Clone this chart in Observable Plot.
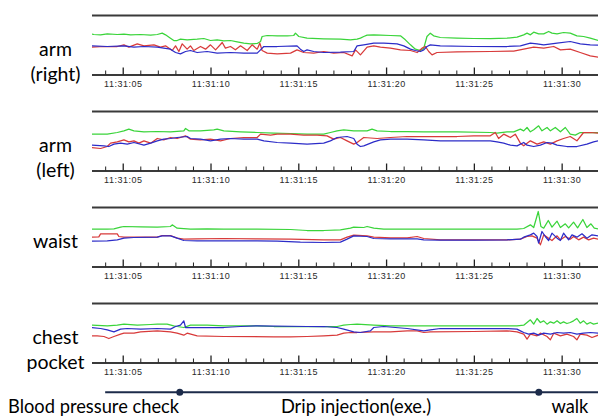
<!DOCTYPE html>
<html><head><meta charset="utf-8">
<script src="https://cdn.jsdelivr.net/npm/d3@7"></script>
<script src="https://cdn.jsdelivr.net/npm/@observablehq/plot@0.6"></script>
<style>
body{margin:0;background:#fff;}
#chart{width:598px;height:416px;overflow:hidden;position:relative;background:#fff;}
#chart svg{display:block;}
g[aria-label="x-axis tick label"] text{letter-spacing:0.5px;}
</style></head><body><div id="chart"></div>
<script>
// ---- data (time in seconds after 11:31:00, signal in arbitrary units) ----
const panelLabels = ["arm\n(right)", "arm\n(left)", "waist", "chest\npocket"];
const majorTicks = [5, 10, 15, 20, 25, 30];
const tickLabels = ["11:31:05", "11:31:10", "11:31:15", "11:31:20", "11:31:25", "11:31:30"];
const minorTicks = [4, 6, 7, 8, 9, 11, 12, 13, 14, 16, 17, 18, 19, 21, 22, 23, 24, 26, 27, 28, 29, 31];
const timeDomain = [3.25, 32.07];
const panelDomains = [[-45.5, 133], [-45.5, 133], [-51.5, 127], [-51.5, 127]];
const phaseLabels = ["Blood pressure check", "Drip injection(exe.)", "walk"];
const phaseLabelTimes = [3.31, 18.26, 30.44];
const phaseMarks = [8.22, 28.67];
const timelineSpan = [4, 32.07];

const armRightGreen = [[3.14,78],[3.33,76],[3.71,75],[4.09,78],[4.66,76],[5.04,77],[5.42,75],[5.99,76],[6.56,74],[6.94,76],[7.22,80],[7.41,75],[7.69,65],[7.88,58],[8.07,58],[8.26,62],[8.64,60],[9.21,62],[9.59,64],[9.97,58],[10.35,60],[10.73,57],[11.11,58],[11.49,54],[11.87,50],[12.25,48],[12.63,49],[12.82,55],[12.91,70],[13.20,73],[13.77,72],[14.34,72],[14.71,73],[14.81,80],[15.00,70],[15.47,65],[16.42,63],[17.37,62],[17.94,60],[18.32,62],[18.51,65],[18.70,70],[18.89,74],[19.27,75],[19.65,74],[20.22,73],[20.79,72],[21.07,60],[21.36,45],[21.64,32],[21.93,28],[22.12,35],[22.30,70],[22.49,80],[22.68,72],[23.06,67],[24.01,65],[24.96,64],[25.91,64],[26.86,65],[27.43,68],[27.81,75],[28.00,80],[28.19,75],[28.38,83],[28.66,78],[28.95,78],[29.23,85],[29.42,80],[29.71,78],[30.08,82],[30.46,80],[30.84,72],[31.22,70],[31.60,65],[32.06,58]];
const armRightBlue = [[3.14,42],[4.09,40],[5.04,42],[5.61,38],[6.18,40],[6.94,38],[7.31,35],[7.69,32],[7.98,22],[8.26,18],[8.55,25],[8.83,28],[9.21,22],[9.78,25],[10.35,20],[11.11,22],[11.87,20],[12.63,20],[12.82,30],[13.01,40],[13.77,40],[14.90,42],[15.09,32],[15.28,25],[15.47,30],[15.85,25],[16.42,22],[17.37,23],[18.13,25],[18.32,42],[18.70,45],[19.27,50],[19.84,50],[20.60,48],[20.98,42],[21.36,32],[21.64,28],[21.93,25],[22.12,30],[22.30,40],[22.49,45],[23.06,42],[24.96,40],[26.86,40],[27.62,42],[28.19,50],[28.57,48],[28.95,45],[29.71,50],[30.46,55],[31.03,48],[31.60,45],[32.06,44]];
const armRightRed = [[3.14,38],[3.90,40],[4.66,40],[5.04,45],[5.32,38],[5.80,48],[6.18,42],[6.75,45],[7.12,38],[7.41,42],[7.79,28],[7.98,42],[8.17,25],[8.36,48],[8.64,32],[8.83,42],[9.02,28],[9.40,40],[9.69,32],[9.97,45],[10.26,30],[10.64,52],[10.82,35],[11.11,40],[11.39,30],[11.68,42],[12.06,28],[12.34,45],[12.63,32],[12.78,50],[12.91,28],[13.20,20],[13.77,18],[14.53,20],[14.90,30],[15.28,22],[15.85,20],[16.42,25],[16.99,20],[17.56,22],[18.04,12],[18.23,30],[18.51,15],[18.89,38],[19.27,42],[19.65,38],[20.22,35],[20.79,30],[21.36,28],[21.74,22],[22.02,35],[22.21,40],[22.40,25],[22.59,15],[22.87,22],[24.01,24],[25.91,25],[27.24,26],[27.81,32],[28.38,38],[28.95,35],[29.52,40],[29.90,30],[30.46,32],[31.03,22],[31.60,12],[32.06,8]];

const armLeftGreen = [[3.14,65],[4.09,65],[4.66,70],[5.04,75],[5.32,80],[5.61,75],[6.18,72],[6.94,73],[7.69,72],[8.45,75],[8.55,82],[8.74,75],[9.40,75],[10.16,78],[10.35,80],[10.73,75],[11.68,72],[12.63,70],[13.58,68],[14.53,67],[15.47,65],[16.42,65],[16.80,70],[17.18,75],[17.56,78],[18.13,75],[18.89,75],[19.17,80],[19.46,75],[20.22,73],[21.17,73],[22.12,72],[24.01,72],[25.91,70],[26.29,68],[26.86,72],[27.24,72],[27.62,80],[27.81,75],[28.00,85],[28.19,72],[28.38,78],[28.66,90],[28.85,75],[29.14,85],[29.33,75],[29.61,85],[29.90,72],[30.18,85],[30.46,65],[30.75,62],[31.03,70],[31.41,70],[32.06,70]];
const armLeftBlue = [[3.14,32],[3.90,30],[4.18,28],[4.47,35],[4.85,38],[5.23,35],[5.61,40],[6.18,32],[6.56,38],[6.94,45],[7.31,50],[7.69,52],[8.07,55],[8.64,58],[8.83,52],[9.40,50],[9.97,45],[10.54,50],[11.11,52],[11.87,50],[12.63,50],[13.01,45],[13.77,40],[14.53,38],[15.47,35],[16.42,38],[16.80,45],[17.18,55],[17.75,58],[18.13,52],[18.32,35],[18.51,28],[18.70,30],[19.27,42],[19.65,48],[20.22,50],[21.17,50],[22.12,48],[23.06,45],[25.91,45],[26.29,42],[26.67,38],[27.05,32],[27.43,30],[27.81,40],[28.00,32],[28.38,28],[28.76,32],[29.14,40],[29.42,38],[29.71,32],[30.27,28],[30.84,28],[31.41,35],[31.79,42],[32.06,45]];
const armLeftRed = [[3.14,25],[3.71,22],[4.09,28],[4.28,38],[4.66,42],[5.04,48],[5.32,42],[5.61,45],[5.89,38],[6.18,45],[6.56,38],[6.94,52],[7.31,48],[7.69,55],[8.07,52],[8.55,60],[8.83,50],[9.40,48],[9.97,50],[10.54,45],[11.11,52],[11.87,55],[12.63,55],[12.82,65],[13.39,62],[13.77,65],[14.53,65],[15.28,62],[16.04,62],[16.61,60],[16.99,50],[17.37,55],[17.75,45],[18.13,35],[18.32,40],[18.70,55],[19.46,52],[20.22,55],[21.17,58],[22.12,58],[24.01,58],[24.96,60],[25.91,60],[26.19,70],[26.38,52],[26.67,65],[27.05,55],[27.33,65],[27.62,38],[27.81,30],[28.19,45],[28.57,35],[28.95,42],[29.33,35],[29.71,45],[30.08,52],[30.46,58],[30.84,45],[31.22,70],[31.60,70],[32.06,68]];

const waistGreen = [[3.14,62],[4.09,62],[4.47,63],[4.85,68],[5.04,70],[5.99,69],[6.94,68],[7.69,70],[7.79,75],[8.07,65],[8.83,62],[9.78,63],[10.73,62],[12.63,62],[14.53,61],[15.47,58],[16.42,58],[17.37,60],[17.94,65],[18.13,68],[18.70,67],[18.89,70],[19.27,65],[19.84,62],[22.12,62],[27.43,62],[27.81,64],[28.19,75],[28.38,67],[28.64,115],[28.79,70],[28.95,65],[29.21,88],[29.42,68],[29.71,86],[29.90,67],[30.18,78],[30.37,66],[30.65,83],[30.88,66],[31.18,91],[31.41,67],[31.64,78],[31.83,65],[32.06,63]];
const waistBlue = [[3.14,26],[4.09,27],[4.66,30],[5.04,35],[5.61,37],[6.94,38],[7.22,42],[7.69,42],[8.07,35],[8.45,28],[9.21,27],[10.73,27],[12.63,27],[13.77,26],[15.09,23],[16.42,22],[17.37,23],[17.75,32],[18.13,42],[18.89,40],[19.27,34],[20.22,33],[21.74,33],[22.12,30],[23.06,29],[24.96,29],[26.86,30],[27.62,32],[27.81,38],[28.19,45],[28.38,50],[28.57,40],[28.66,20],[28.85,55],[29.04,40],[29.23,28],[29.42,50],[29.71,35],[29.90,28],[30.08,50],[30.37,30],[30.56,45],[30.84,38],[31.13,48],[31.41,35],[31.70,45],[32.06,42]];
const waistRed = [[3.14,38],[3.61,39],[3.71,48],[4.66,48],[4.75,40],[5.04,38],[6.94,38],[7.22,43],[7.69,43],[8.07,35],[8.45,32],[9.21,33],[10.73,34],[12.63,33],[14.53,32],[16.42,30],[17.37,30],[17.75,38],[18.13,44],[18.89,42],[19.27,38],[20.22,36],[21.17,36],[21.74,40],[22.12,34],[23.06,30],[26.86,30],[27.62,32],[28.00,40],[28.28,42],[28.57,35],[28.76,15],[28.95,45],[29.23,35],[29.42,28],[29.71,42],[29.90,30],[30.18,40],[30.46,32],[30.65,40],[30.94,30],[31.22,38],[31.51,30],[31.79,35],[32.06,32]];

const chestGreen = [[3.14,62],[4.09,60],[4.66,62],[5.04,65],[5.80,62],[6.56,64],[6.94,65],[7.50,65],[7.88,60],[8.07,58],[8.45,55],[8.83,62],[9.78,62],[10.73,60],[12.63,60],[13.58,58],[17.18,58],[17.56,62],[17.94,64],[18.32,65],[19.27,62],[20.22,60],[27.43,60],[27.81,62],[28.00,70],[28.19,78],[28.38,65],[28.57,82],[28.76,70],[28.95,75],[29.14,65],[29.33,72],[29.52,68],[29.71,75],[29.90,67],[30.08,72],[30.27,67],[30.46,70],[30.65,75],[30.84,82],[31.03,68],[31.22,75],[31.41,65],[31.60,70],[31.79,65],[32.06,68]];
const chestBlue = [[3.14,55],[3.71,52],[4.09,48],[4.47,42],[4.85,50],[5.23,52],[5.99,50],[6.94,52],[7.69,50],[7.98,58],[8.26,62],[8.45,75],[8.55,55],[8.83,55],[10.73,55],[11.68,58],[12.63,60],[15.47,58],[16.42,58],[17.18,55],[17.56,50],[18.13,42],[18.51,40],[19.08,45],[19.27,55],[19.84,58],[21.17,52],[22.12,45],[22.49,48],[23.06,52],[26.86,52],[27.43,50],[27.62,45],[27.81,40],[28.09,35],[28.38,38],[28.66,32],[28.95,38],[29.33,35],[29.71,40],[30.08,38],[30.46,40],[30.84,35],[31.22,38],[31.60,40],[32.06,38]];
const chestRed = [[3.14,30],[3.52,30],[3.90,28],[4.18,22],[4.47,28],[4.85,35],[5.04,38],[5.61,38],[5.99,42],[6.94,45],[7.69,42],[8.07,38],[8.45,32],[8.64,38],[9.21,30],[10.73,28],[13.58,27],[14.53,27],[15.47,28],[16.42,30],[17.18,32],[17.56,38],[17.94,40],[18.32,40],[19.27,42],[20.22,42],[21.17,45],[21.74,45],[22.12,40],[22.49,42],[24.96,43],[26.86,45],[27.43,42],[27.81,35],[28.00,20],[28.19,35],[28.57,30],[28.76,38],[29.14,28],[29.33,18],[29.52,38],[29.90,30],[30.27,35],[30.65,28],[30.84,18],[31.03,35],[31.41,32],[31.70,25],[32.06,32]];

// ---- styles ----
const colors = {green: "#3ad43a", red: "#d83a3a", blue: "#2c2cc8"};
const ruleColor = "#3a3a3a";
const timelineColor = "#1c2b4a";
const labelFont = "Lato, 'Open Sans', sans-serif";

const panels = [
  {label: panelLabels[0], domain: panelDomains[0], series: [["green", armRightGreen], ["red", armRightRed], ["blue", armRightBlue]]},
  {label: panelLabels[1], domain: panelDomains[1], series: [["green", armLeftGreen], ["red", armLeftRed], ["blue", armLeftBlue]]},
  {label: panelLabels[2], domain: panelDomains[2], series: [["green", waistGreen], ["red", waistRed], ["blue", waistBlue]]},
  {label: panelLabels[3], domain: panelDomains[3], series: [["green", chestGreen], ["red", chestRed], ["blue", chestBlue]]}
];

const H = 96, MT = 15, MB = 21.5;
const inner = H - MT - MB;
const chart = document.getElementById("chart");

for (const p of panels) {
  const svg = Plot.plot({
    width: 598, height: H,
    marginLeft: 92, marginRight: 0, marginTop: MT, marginBottom: MB,
    style: {fontFamily: "'Liberation Sans', Arial, sans-serif", fontSize: "9px", background: "transparent", overflow: "visible"},
    x: {domain: timeDomain, label: null},
    y: {domain: p.domain, axis: null},
    marks: [
      ...p.series.map(([c, pts]) => Plot.line(pts, {x: d => d[0], y: d => d[1], stroke: colors[c], strokeWidth: 1.25, clip: true})),
      Plot.ruleY([p.domain[1]], {stroke: ruleColor, strokeWidth: 2}),
      Plot.ruleY([p.domain[0]], {stroke: ruleColor, strokeWidth: 2}),
      Plot.ruleX(minorTicks, {x: d => d, insetTop: inner - 4, stroke: "#222", strokeWidth: 1}),
      Plot.ruleX(majorTicks, {x: d => d, insetTop: inner - 7, stroke: "#222", strokeWidth: 1.3}),
      Plot.axisX({ticks: majorTicks, tickSize: 0, tickPadding: 6, label: null, fill: "#2a2a2a",
        tickFormat: d => tickLabels[majorTicks.indexOf(d)]}),
      Plot.text([p.label], {frameAnchor: "top-left", text: d => d, dx: -37, dy: 22.5,
        textAnchor: "middle", lineAnchor: "top", lineHeight: 1.28,
        fontSize: 19.5, fontFamily: labelFont, fill: "#000"})
    ]
  });
  chart.appendChild(svg);
}

const timeline = Plot.plot({
  width: 598, height: 32,
  marginLeft: 92, marginRight: 0, marginTop: 0, marginBottom: 0,
  style: {background: "transparent", overflow: "visible"},
  x: {domain: timeDomain, axis: null},
  y: {domain: [0, 1], range: [7.7, 22.6], axis: null},
  marks: [
    Plot.ruleY([{t1: timelineSpan[0], t2: timelineSpan[1]}], {y: () => 0, x1: "t1", x2: "t2", stroke: timelineColor, strokeWidth: 2}),
    Plot.dot(phaseMarks, {x: d => d, y: () => 0, r: 3.5, fill: timelineColor, stroke: "none"}),
    Plot.text(phaseLabels, {x: (d, i) => phaseLabelTimes[i], y: () => 1, text: d => d,
      textAnchor: "middle", lineAnchor: "middle", fontSize: 18.3, fontFamily: labelFont, fill: "#000"})
  ]
});
chart.appendChild(timeline);
</script></body></html>
